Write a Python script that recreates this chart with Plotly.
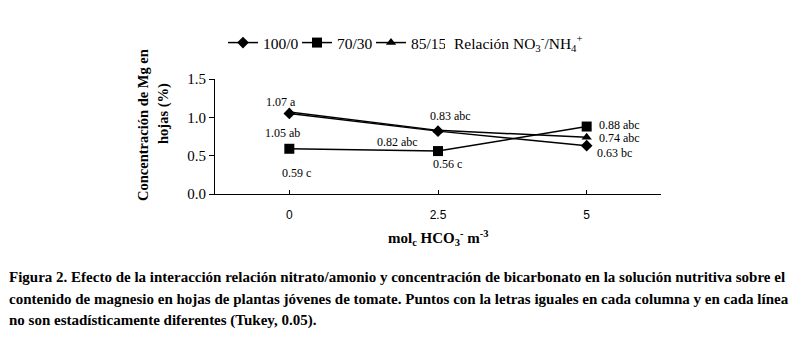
import plotly.graph_objects as go

categories = ["0", "2.5", "5"]
series_names = ["100/0", "70/30", "85/15"]
vals_100_0 = [1.05, 0.82, 0.63]
vals_70_30 = [0.59, 0.56, 0.88]
vals_85_15 = [1.07, 0.83, 0.74]
labels_100_0 = ["1.05 ab", "0.82 abc", "0.63 bc"]
labels_70_30 = ["0.59 c", "0.56 c", "0.88 abc"]
labels_85_15 = ["1.07 a", "0.83 abc", "0.74 abc"]
y_ticks = [0.0, 0.5, 1.0, 1.5]
caption_lines = [
    "Figura 2. Efecto de la interacción relación nitrato/amonio y concentración de bicarbonato en la solución nutritiva sobre el",
    "contenido de magnesio en hojas de plantas jóvenes de tomate. Puntos con la letras iguales en cada columna y en cada línea",
    "no son estadísticamente diferentes (Tukey, 0.05).",
]
y_title_lines = ["Concentración de Mg en", "hojas (%)"]

SERIF = "Liberation Serif"
W, H = 791, 342
L, R, T, B = 215, 130, 79, 148

fig = go.Figure()
styles = [("diamond", 9), ("square", 10), ("triangle-up", 9)]
all_vals = [vals_100_0, vals_70_30, vals_85_15]
for name, vals, (sym, sz) in zip(series_names, all_vals, styles):
    fig.add_trace(go.Scatter(
        x=categories, y=vals, name=name, mode="lines+markers",
        line=dict(color="black", width=1.5),
        marker=dict(symbol=sym, size=sz, color="black"),
    ))

# label offsets (pixels) for each series/point
shifts = {
    0: [(-7, -19), (-41, -11), (28, -7)],
    1: [(7, -24), (9, -13), (33, 2)],
    2: [(-8, 10), (12, 14), (33, -1)],
}
all_labels = [labels_100_0, labels_70_30, labels_85_15]
for si, (vals, labs) in enumerate(zip(all_vals, all_labels)):
    for pi, (v, lab) in enumerate(zip(vals, labs)):
        dx, dy = shifts[si][pi]
        fig.add_annotation(x=pi, y=v, text=lab, showarrow=False,
                           xshift=dx, yshift=dy,
                           font=dict(family=SERIF, size=12, color="black"))

def px_x(p):
    return (p - L) / (W - L - R)

def px_y(p):
    return (H - B - p) / (H - T - B)

fig.add_annotation(xref="paper", yref="paper", x=px_x(452), y=px_y(43),
                   xanchor="left", yanchor="middle", showarrow=False,
                   text="Relación NO<sub>3</sub><sup>-</sup>/NH<sub>4</sub><sup>+</sup>",
                   font=dict(family=SERIF, size=15.5, color="black"))

for line, xc, yc in zip(y_title_lines, [143, 163], [125, 114]):
    fig.add_annotation(xref="paper", yref="paper", x=px_x(xc), y=px_y(yc),
                       xanchor="center", yanchor="middle", showarrow=False, textangle=-90,
                       text=f"<b>{line}</b>",
                       font=dict(family=SERIF, size=14.5, color="black"))

fig.add_annotation(xref="paper", yref="paper", x=px_x(438), y=px_y(238),
                   xanchor="center", yanchor="middle", showarrow=False,
                   text="<b>mol<sub>c</sub> HCO<sub>3</sub><sup>-</sup> m<sup>-3</sup></b>",
                   font=dict(family=SERIF, size=15, color="black"))

for line, yc in zip(caption_lines, [277, 299, 320]):
    fig.add_annotation(xref="paper", yref="paper", x=px_x(7), y=px_y(yc),
                       xanchor="left", yanchor="middle", showarrow=False, align="left",
                       text=f"<b>{line}</b>",
                       font=dict(family=SERIF, size=15, color="black"))

fig.update_layout(
    width=W, height=H,
    margin=dict(l=L, r=R, t=T, b=B, pad=0, autoexpand=False),
    paper_bgcolor="white", plot_bgcolor="white",
    showlegend=True,
    legend=dict(orientation="h", x=px_x(223), y=px_y(43), xanchor="left", yanchor="middle",
                font=dict(family=SERIF, size=15.5, color="black"),
                entrywidth=29, entrywidthmode="pixels", itemwidth=30,
                bgcolor="rgba(0,0,0,0)"),
)
fig.update_xaxes(type="category", range=[-0.5, 2.5], showline=True, linecolor="black", linewidth=1,
                 ticks="inside", ticklen=4, tickcolor="black", showgrid=False, zeroline=False,
                 ticklabelstandoff=10,
                 tickfont=dict(family="Liberation Sans", size=12, color="black"))
fig.update_yaxes(range=[0, 1.5], tickvals=y_ticks, ticktext=[f"{v:.1f}" for v in y_ticks],
                 showline=True, linecolor="black", linewidth=1,
                 ticks="outside", ticklen=5, tickcolor="black", showgrid=False, zeroline=False,
                 tickfont=dict(family=SERIF, size=15, color="black"))

fig.write_html("out.html", config={"displayModeBar": False},
               post_script="document.body.style.margin='0';")
